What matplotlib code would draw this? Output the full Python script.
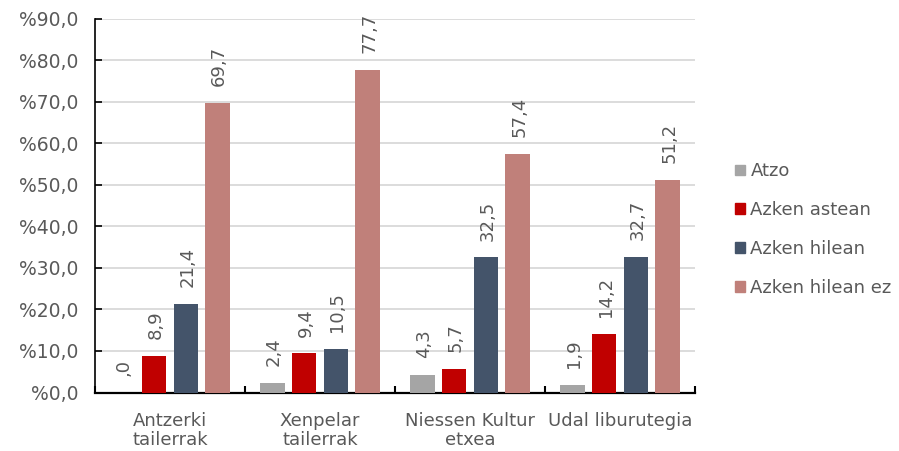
import numpy as np
import matplotlib.pyplot as plt
from matplotlib.patches import Patch

categories = ["Antzerki\ntailerrak", "Xenpelar\ntailerrak", "Niessen Kultur\netxea", "Udal liburutegia"]
series = ["Atzo", "Azken astean", "Azken hilean", "Azken hilean ez"]
atzo = [0.0, 2.4, 4.3, 1.9]
azken_astean = [8.9, 9.4, 5.7, 14.2]
azken_hilean = [21.4, 10.5, 32.5, 32.7]
azken_hilean_ez = [69.7, 77.7, 57.4, 51.2]
colors = ["#a5a5a5", "#c00000", "#44546a", "#c0807a"]

values = [atzo, azken_astean, azken_hilean, azken_hilean_ez]
txt = "#595959"
plt.rcParams["font.family"] = ["DejaVu Sans"]

fig = plt.figure(figsize=(8.99, 4.51), dpi=100)
ax = fig.add_axes([0.1057, 0.1297, 0.6674, 0.829])

x = np.arange(len(categories))
offsets = [-0.318, -0.106, 0.106, 0.318]
w = 0.165

def fmt(v):
    s = f"{v:.1f}".replace(".", ",")
    if v == 0:
        s = ",0"
    return s

for vals, off, c in zip(values, offsets, colors):
    ax.bar(x + off, vals, width=w, color=c, zorder=3)
    for xi, v in zip(x, vals):
        ax.annotate(fmt(v), (xi + off, v), xytext=(1, 12), textcoords="offset points",
                    rotation=90, ha="center", va="bottom", fontsize=13, color=txt)

ax.set_xlim(-0.5, 3.5)
ax.set_ylim(0, 90)
ax.set_yticks(np.arange(0, 91, 10))
ax.set_yticklabels([f"%{t:.1f}".replace(".", ",") for t in np.arange(0, 91, 10)],
                   fontsize=13.5, color=txt)
ax.yaxis.grid(True, color="#d9d9d9", linewidth=1.3, zorder=0)
ax.set_axisbelow(True)

ax.set_xticks(x)
ax.set_xticklabels(categories, fontsize=13, color=txt, linespacing=1.05)
ax.tick_params(axis="x", length=0, pad=14)
ax.set_xticks(np.arange(-0.5, 3.6, 1), minor=True)
ax.tick_params(axis="x", which="minor", length=5, width=1.5, direction="in", color="black")
ax.tick_params(axis="y", length=5, width=1.2, direction="in", color="black", pad=12)

for s in ["top", "right"]:
    ax.spines[s].set_visible(False)
ax.spines["left"].set_color("black")
ax.spines["left"].set_linewidth(1.2)
ax.spines["bottom"].set_color("black")
ax.spines["bottom"].set_linewidth(1.6)

handles = [Patch(color=c, label=s) for c, s in zip(colors, series)]
fig.legend(handles=handles, loc="center left", bbox_to_anchor=(0.81, 0.491),
           borderaxespad=0, frameon=False, fontsize=13, labelcolor=txt,
           handlelength=0.55, handleheight=0.55, handletextpad=0.28, labelspacing=1.15)

fig.savefig("out.png", dpi=100)
